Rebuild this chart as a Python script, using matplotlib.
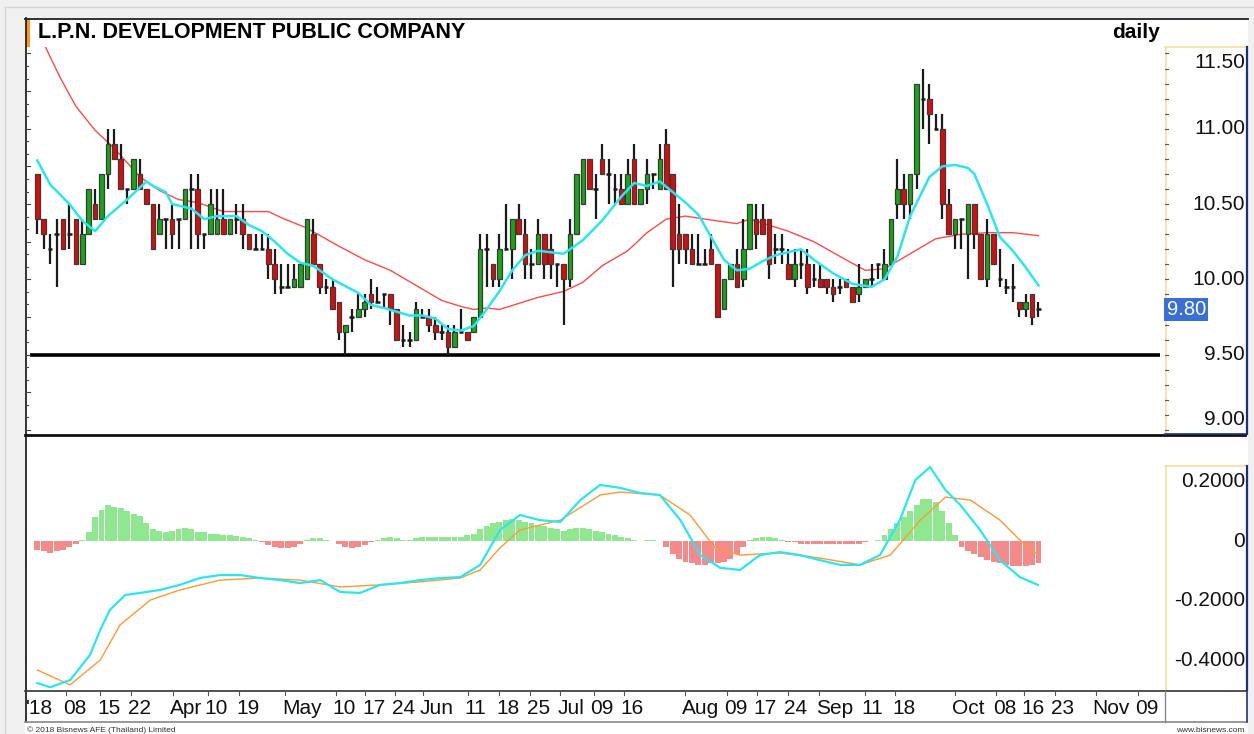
import matplotlib
matplotlib.use("Agg")
import matplotlib.pyplot as plt
from matplotlib.patches import Rectangle
import matplotlib.transforms as mtransforms
import numpy as np

# ---------------- data ----------------
title = "L.P.N. DEVELOPMENT PUBLIC COMPANY"
period = "daily"

opens = [10.7,10.4,10.2,10.3,10.4,10.3,10.4,10.1,10.3,10.5,
         10.4,10.7,10.9,10.8,10.6,10.6,10.7,10.6,10.5,10.3,
         10.4,10.4,10.4,10.4,10.6,10.6,10.3,10.3,10.3,10.4,
         10.3,10.4,10.4,10.3,10.2,10.2,10.2,10.1,9.95,9.95,
         9.95,9.95,10.0,10.3,10.1,9.95,9.95,9.85,9.65,9.75,
         9.75,9.8,9.9,9.85,9.9,9.9,9.8,9.6,9.6,9.6,
         9.75,9.75,9.7,9.65,9.65,9.55,9.65,9.65,9.65,9.75,
         10.2,10.1,10.0,10.2,10.2,10.4,10.3,10.1,10.1,10.3,
         10.2,10.1,10.1,10.0,10.3,10.5,10.8,10.6,10.8,10.7,
         10.6,10.6,10.5,10.8,10.5,10.6,10.7,10.6,10.9,10.7,
         10.3,10.3,10.2,10.1,10.1,10.2,10.1,9.8,10.0,10.1,
         10.0,10.2,10.4,10.4,10.4,10.2,10.2,10.1,10.0,10.1,
         10.1,10.0,10.0,10.0,9.95,9.95,10.0,9.95,9.9,9.95,
         10.0,10.1,10.0,10.1,10.5,10.6,10.5,10.7,11.2,11.2,
         11.0,11.0,10.5,10.3,10.4,10.3,10.5,10.3,10.0,10.3,
         10.0,9.95,9.95,9.85,9.8,9.9,9.8]
highs = [10.7,10.4,10.3,10.4,10.4,10.5,10.4,10.4,10.6,10.6,
         10.7,11.0,11.0,10.9,10.6,10.8,10.8,10.6,10.5,10.5,
         10.4,10.5,10.4,10.6,10.7,10.7,10.3,10.6,10.6,10.6,
         10.4,10.5,10.5,10.3,10.3,10.3,10.3,10.2,10.1,10.1,
         10.1,10.1,10.4,10.4,10.1,10.0,10.0,9.85,9.7,9.8,
         9.9,9.9,10.0,9.95,9.9,9.9,9.8,9.7,9.65,9.85,
         9.8,9.8,9.75,9.7,9.7,9.7,9.8,9.65,9.75,10.3,
         10.3,10.1,10.3,10.5,10.4,10.5,10.4,10.2,10.4,10.3,
         10.3,10.1,10.1,10.4,10.7,10.8,10.8,10.7,10.9,10.8,
         10.7,10.7,10.8,10.9,10.6,10.8,10.7,10.9,11.0,10.7,
         10.5,10.3,10.3,10.3,10.2,10.3,10.1,10.0,10.1,10.2,
         10.4,10.5,10.5,10.5,10.4,10.3,10.3,10.2,10.2,10.2,
         10.2,10.1,10.1,10.0,10.0,10.0,10.0,9.95,10.1,10.0,
         10.1,10.1,10.2,10.4,10.8,10.7,10.7,11.3,11.4,11.3,
         11.1,11.1,10.6,10.4,10.4,10.5,10.5,10.3,10.4,10.3,
         10.2,10.0,10.1,9.85,9.9,9.9,9.85]
lows = [10.3,10.2,10.1,9.95,10.2,10.2,10.1,10.1,10.3,10.4,
        10.4,10.6,10.8,10.6,10.5,10.6,10.6,10.5,10.2,10.3,
        10.2,10.2,10.2,10.4,10.2,10.2,10.2,10.3,10.3,10.3,
        10.3,10.3,10.2,10.2,10.2,10.2,10.0,9.9,9.9,9.95,
        9.95,9.95,10.0,10.1,9.9,9.9,9.8,9.6,9.5,9.65,
        9.75,9.75,9.8,9.85,9.8,9.7,9.6,9.55,9.55,9.6,
        9.75,9.65,9.6,9.6,9.5,9.55,9.65,9.6,9.65,9.75,
        9.95,9.95,9.95,10.2,10.0,10.3,10.0,10.0,10.1,10.0,
        10.0,9.95,9.7,9.95,10.3,10.5,10.6,10.4,10.7,10.5,
        10.5,10.5,10.5,10.5,10.5,10.5,10.6,10.6,10.6,9.95,
        10.1,10.1,10.1,10.1,10.1,10.1,9.75,9.8,10.0,9.95,
        9.95,10.2,10.2,10.3,10.0,10.1,10.1,10.0,9.95,10.0,
        9.9,9.95,9.95,9.9,9.85,9.9,9.95,9.85,9.85,9.95,
        9.95,10.0,10.0,10.1,10.4,10.4,10.4,10.6,11.0,10.9,
        11.0,10.4,10.3,10.2,10.2,10.0,10.2,10.0,9.95,10.1,
        9.95,9.9,9.85,9.75,9.75,9.7,9.75]
closes = [10.4,10.3,10.2,10.3,10.2,10.3,10.1,10.3,10.6,10.4,
          10.7,10.9,10.8,10.6,10.6,10.8,10.6,10.5,10.2,10.4,
          10.4,10.3,10.4,10.6,10.6,10.3,10.3,10.5,10.4,10.3,
          10.4,10.4,10.3,10.2,10.2,10.2,10.1,10.0,9.95,9.95,
          10.0,10.1,10.4,10.1,9.95,9.95,9.8,9.65,9.7,9.75,
          9.8,9.85,9.85,9.85,9.9,9.8,9.6,9.6,9.6,9.8,
          9.75,9.7,9.65,9.65,9.55,9.65,9.65,9.6,9.75,10.2,
          10.2,10.0,10.2,10.2,10.4,10.3,10.1,10.1,10.3,10.1,
          10.1,10.1,10.0,10.3,10.7,10.8,10.6,10.6,10.7,10.7,
          10.6,10.5,10.7,10.5,10.6,10.7,10.7,10.8,10.6,10.2,
          10.2,10.2,10.1,10.1,10.1,10.1,9.75,10.0,10.1,9.95,
          10.2,10.5,10.3,10.3,10.1,10.2,10.2,10.0,10.1,10.1,
          9.95,10.0,9.95,9.95,9.9,9.95,9.95,9.85,9.95,10.0,
          10.0,10.1,10.1,10.4,10.6,10.5,10.7,11.3,11.2,11.1,
          11.0,10.5,10.3,10.4,10.4,10.5,10.3,10.0,10.3,10.1,
          10.0,9.95,9.95,9.8,9.85,9.75,9.8]

support_level = 9.50

# long moving average (red) read points: (day index, price)
ma_long_idx = [1.3, 3.5, 6, 9, 12, 16, 19, 22, 25, 29, 36, 38, 42, 47, 51, 55, 59, 63,
               66, 68, 70, 72, 75, 78, 82, 85, 88, 92, 95, 98, 101, 104, 109, 111, 114,
               117, 121, 126, 129, 132, 136, 140, 144, 148, 152, 156]
ma_long_val = [11.54, 11.345, 11.15, 10.99, 10.87, 10.68, 10.59, 10.53, 10.51, 10.45, 10.45,
               10.41, 10.34, 10.22, 10.13, 10.06, 9.96, 9.86, 9.82, 9.80, 9.81, 9.80, 9.84,
               9.88, 9.92, 9.98, 10.09, 10.19, 10.31, 10.40, 10.42, 10.40, 10.37, 10.40,
               10.36, 10.32, 10.25, 10.13, 10.06, 10.07, 10.17, 10.27, 10.30, 10.31, 10.31,
               10.29]
# short moving average (cyan)
ma_short_idx = [0, 2, 5, 7, 9, 11, 14, 17, 18, 20, 21, 24, 26, 28, 31, 33, 35, 37, 39, 41,
                43, 46, 50, 52, 54, 58, 60, 62, 64, 66, 68, 70, 72, 74, 76, 78, 80, 82, 85,
                88, 91, 93, 95, 97, 99, 101, 103, 105, 107, 109, 111, 113, 115, 117, 119,
                121, 124, 127, 130, 132, 134, 136, 139, 141, 143, 145, 146, 148, 150, 152,
                154, 156]
ma_short_val = [10.79, 10.63, 10.50, 10.39, 10.32, 10.42, 10.53, 10.65, 10.62, 10.58, 10.50,
                10.47, 10.40, 10.42, 10.42, 10.36, 10.32, 10.25, 10.17, 10.11, 10.09, 10.00,
                9.91, 9.83, 9.81, 9.76, 9.76, 9.74, 9.67, 9.66, 9.69, 9.80, 9.92, 10.06,
                10.16, 10.19, 10.18, 10.17, 10.26, 10.39, 10.55, 10.64, 10.62, 10.65, 10.58,
                10.51, 10.43, 10.28, 10.13, 10.06, 10.07, 10.12, 10.16, 10.18, 10.20, 10.13,
                10.04, 9.97, 9.95, 10.00, 10.15, 10.42, 10.68, 10.75, 10.76, 10.74, 10.70,
                10.50, 10.28, 10.19, 10.08, 9.96]

# MACD histogram, one bar per day
macd_hist = ([-0.03, -0.035, -0.04, -0.035, -0.03, -0.02, -0.01, 0.005] +
             [0.03, 0.08, 0.105, 0.12, 0.115, 0.11, 0.10, 0.09, 0.085, 0.06, 0.04, 0.035,
              0.03, 0.035, 0.04, 0.045, 0.04, 0.03, 0.03, 0.025, 0.025, 0.02, 0.02, 0.018,
              0.015, 0.01, 0.005] +
             [-0.005, -0.015, -0.02, -0.025, -0.025, -0.02, -0.01] +
             [0.005, 0.01, 0.01, 0.005, 0.0] +
             [-0.01, -0.02, -0.025, -0.02, -0.015, -0.005] +
             [0.005, 0.01, 0.015, 0.01, 0.005, 0.005, 0.01, 0.015, 0.015, 0.015, 0.015,
              0.015, 0.015, 0.015, 0.02, 0.025] +
             [0.04, 0.05, 0.06, 0.065, 0.07, 0.075, 0.07, 0.065, 0.06, 0.055, 0.05, 0.045,
              0.04, 0.035] +
             [0.04, 0.045, 0.045, 0.04, 0.035, 0.03, 0.025, 0.02, 0.015, 0.01] +
             [0.005, 0.0, 0.005, 0.003, 0.0] +
             [-0.02, -0.045, -0.06, -0.07, -0.075, -0.08, -0.08, -0.075, -0.075, -0.07,
              -0.06, -0.045, -0.02] +
             [0.005, 0.01, 0.015, 0.015, 0.01, 0.005] +
             [-0.005, -0.005, -0.01, -0.01, -0.01, -0.01, -0.01, -0.01, -0.01, -0.01, -0.01,
              -0.01, -0.005, 0.0, 0.005] +
             [0.02, 0.04, 0.06, 0.08, 0.10, 0.12, 0.14, 0.14, 0.13, 0.10, 0.06, 0.02] +
             [-0.02, -0.035, -0.045, -0.055, -0.065, -0.07, -0.075, -0.08, -0.085, -0.085,
              -0.085, -0.08, -0.075])

macd_idx = [0, 2, 5.1, 8.2, 9.8, 11.3, 13.7, 16, 19.1, 22.2, 25.3, 28.5, 31.6, 34.7, 37.8,
            40.9, 44.1, 47.2, 50.3, 53.4, 56.5, 59.6, 62.8, 65.9, 69, 72.1, 75.2, 78.3, 81.5,
            84.6, 87.7, 90.8, 93.9, 97, 100.2, 103.3, 106.4, 109.5, 112.6, 115.7, 118.8,
            121.9, 125.1, 128.2, 131.3, 134.4, 136.8, 139.1, 141.5, 143.8, 146.9, 150,
            153.1, 155.9]
macd_val = [-0.476, -0.49, -0.466, -0.382, -0.298, -0.231, -0.181, -0.174, -0.164, -0.147,
            -0.124, -0.114, -0.114, -0.124, -0.131, -0.141, -0.131, -0.171, -0.174, -0.147,
            -0.141, -0.131, -0.124, -0.121, -0.080, 0.037, 0.087, 0.070, 0.064, 0.137, 0.188,
            0.178, 0.161, 0.154, 0.070, -0.047, -0.090, -0.097, -0.047, -0.037, -0.047,
            -0.064, -0.080, -0.080, -0.047, 0.070, 0.204, 0.248, 0.171, 0.121, 0.037, -0.064,
            -0.121, -0.147]
signal_idx = [0, 5.1, 9.8, 12.9, 17.6, 22.2, 28.5, 34.7, 40.9, 47.2, 53.4, 59.6, 65.9, 69,
              72.1, 75.2, 81.5, 87.7, 90.8, 97, 101.7, 105.6, 109.5, 115.7, 121.9, 128.2,
              132.9, 137.6, 141.5, 145.4, 150, 153.1, 155.9]
signal_val = [-0.432, -0.482, -0.399, -0.281, -0.198, -0.164, -0.131, -0.124, -0.131, -0.154,
              -0.147, -0.137, -0.124, -0.097, -0.023, 0.037, 0.070, 0.154, 0.164, 0.154,
              0.087, -0.023, -0.047, -0.040, -0.057, -0.080, -0.047, 0.070, 0.147, 0.137,
              0.070, 0.003, -0.047]

price_ticks = [11.5, 11.0, 10.5, 10.0, 9.5, 9.0]
price_tick_labels = ["11.50", "11.00", "10.50", "10.00", "9.50", "9.00"]
macd_ticks = [0.2, 0.0, -0.2, -0.4]
macd_tick_labels = ["0.2000", "0", "-0.2000", "-0.4000"]

date_labels = ["'18", "08", "15", "22", "Apr", "10", "19", "May", "10", "17", "24", "Jun",
               "11", "18", "25", "Jul", "09", "16", "Aug", "09", "17", "24", "Sep", "11",
               "18", "Oct", "08", "16", "23", "Nov", "09"]
# label left-edge positions, in trading-day index units (layout)
date_label_pos = [-1.75, 4.0, 9.3, 14.1, 20.7, 26.1, 31.0, 38.1, 46.0, 50.6, 55.3, 59.6,
                  66.6, 71.5, 76.3, 81.0, 86.2, 90.9, 100.4, 107.0, 111.6, 116.4, 121.3,
                  128.4, 133.2, 142.5, 148.9, 153.3, 158.0, 164.4, 171.0]

n = len(closes)
assert len(opens) == n and len(highs) == n and len(lows) == n and len(macd_hist) == n

# ---------------- figure ----------------
W, H = 1254, 734
fig = plt.figure(figsize=(W / 100, H / 100), dpi=100)
fig.patch.set_facecolor('#f0f0f0')
plt.rcParams['font.family'] = ['Liberation Sans', 'DejaVu Sans']


def rect(x0, y0, x1, y1):
    return [x0 / W, 1 - y1 / H, (x1 - x0) / W, (y1 - y0) / H]


# background / frame in pixel coordinates
bg = fig.add_axes([0, 0, 1, 1])
bg.set_xlim(0, W)
bg.set_ylim(H, 0)
bg.axis('off')
bg.plot([5, W], [7, 7], color='#d4d4d4', lw=1)
bg.plot([5, 5], [7, H], color='#d4d4d4', lw=1)
bg.add_patch(Rectangle((25, 18), 1223, H - 18, facecolor='white', edgecolor='none'))
bg.plot([25, 1248], [18.5, 18.5], color='#222222', lw=1.3)
bg.plot([25.5, 25.5], [18, 722], color='#222222', lw=1.3)
bg.add_patch(Rectangle((26, 19), 3.5, 28, facecolor='#ff9a10', edgecolor='none'))
bg.plot([25, 1245], [435, 435], color='#111111', lw=2.0)
# right axis boxes
for (y0, y1) in [(47, 434), (466, 690)]:
    bg.plot([1165.5, 1165.5], [y0, y1], color='#f5dfa0', lw=1.2)
    bg.plot([1165, 1246], [y0, y0], color='#f5dfa0', lw=1.2)
    bg.plot([1246.5, 1246.5], [y0, y1], color='#1c2f7a', lw=1.6)
bg.plot([1165, 1246], [434, 434], color='#1c2f7a', lw=1.2)
# x axis bar
bg.plot([25, 1246], [691, 691], color='#333333', lw=1.2)
bg.plot([25, 1246], [722, 722], color='#888888', lw=1.2)
bg.plot([1164.5, 1164.5], [691, 722], color='#888888', lw=1.0)
bg.plot([1246.5, 1246.5], [691, 722], color='#1c2f7a', lw=1.2)

fig.text(38 / W, 1 - 33 / H, title, fontsize=15.5, fontweight='bold', ha='left',
         va='center', color='#000000')
fig.text(1160 / W, 1 - 33 / H, period, fontsize=15, fontweight='bold', ha='right',
         va='center', color='#000000')
fig.text(27 / W, 1 - 730 / H, "\u00a9 2018 Bisnews AFE (Thailand) Limited", fontsize=6,
         ha='left', va='center', color='#333333')
fig.text(1245 / W, 1 - 730 / H, "www.bisnews.com", fontsize=6, ha='right', va='center',
         color='#333333')

XMIN, XMAX = -1.92, 175.4

# ---------------- price panel ----------------
ax = fig.add_axes(rect(25, 47, 1163, 434))
ax.set_xlim(XMIN, XMAX)
ax.set_ylim(8.973, 11.543)
ax.axis('off')
ax.patch.set_alpha(0)

ax.hlines(support_level, -1.1, 175.0, color='black', lw=2.6, zorder=2)
ax.plot(ma_long_idx, ma_long_val, color='#ff4a4a', lw=1.0, zorder=3)

bw = 0.72
for i in range(n):
    o, h, l, c = opens[i], highs[i], lows[i], closes[i]
    ax.vlines(i, l, h, color='#1a1a1a', lw=1.6, zorder=4)
    if c == o:
        ax.hlines(o, i - bw / 2, i + bw / 2, color='#1a1a1a', lw=1.8, zorder=5)
    else:
        col = '#14a814' if c > o else '#dd0a0a'
        ax.add_patch(Rectangle((i - bw / 2, min(o, c)), bw, abs(c - o), facecolor=col,
                               edgecolor='#3a3a3a', lw=0.9, zorder=5))
ax.plot(ma_short_idx, ma_short_val, color='#28e6f2', lw=1.8, zorder=6)

# left minor ticks
tr_left = mtransforms.blended_transform_factory(ax.transAxes, ax.transData)
for k, v in enumerate(np.arange(9.0, 11.5 + 1e-6, 0.25 / 3)):
    ln = 0.004 if k % 3 == 0 else 0.0025
    ax.plot([0, ln], [v, v], transform=tr_left, color='#444444', lw=0.8, clip_on=False)

# right price axis
axr = fig.add_axes(rect(1165, 47, 1245, 434))
axr.set_xlim(0, 1)
axr.set_ylim(8.973, 11.543)
axr.axis('off')
for v in np.arange(9.0, 11.5 + 1e-6, 0.1):
    axr.plot([0, 0.04], [v, v], color='#555555', lw=0.8)
for v, lab in zip(price_ticks, price_tick_labels):
    off = 0
    if v == max(price_ticks):
        off = -9
    elif v == min(price_ticks):
        off = 10
    t = mtransforms.offset_copy(axr.transData, fig=fig, x=0, y=off, units='dots')
    axr.text(1.0, v, lab, transform=t, ha='right', va='center', fontsize=15, color='#111111')
axr.text(0.02, closes[-1], f"{closes[-1]:.2f}", ha='left', va='center', fontsize=14.5,
         color='white', bbox=dict(boxstyle='square,pad=0.12', facecolor='#3a6fd8',
                                  edgecolor='none'))

# ---------------- MACD panel ----------------
axm = fig.add_axes(rect(25, 436, 1163, 690))
axm.set_xlim(XMIN, XMAX)
axm.set_ylim(-0.4992, 0.3518)
axm.axis('off')
axm.patch.set_alpha(0)
hcols = ['#8fe88f' if v >= 0 else '#f58a8a' for v in macd_hist]
axm.bar(np.arange(n), macd_hist, width=0.92, color=hcols, edgecolor='none', zorder=2)
axm.plot(signal_idx, signal_val, color='#ff9a30', lw=1.0, zorder=3)
axm.plot(macd_idx, macd_val, color='#28e6f2', lw=1.6, zorder=4)

axmr = fig.add_axes(rect(1165, 466, 1245, 690))
axmr.set_xlim(0, 1)
axmr.set_ylim(-0.4992, 0.2513)
axmr.axis('off')
for v, lab in zip(macd_ticks, macd_tick_labels):
    axmr.text(1.0, v, lab, ha='right', va='center', fontsize=15, color='#111111')

# ---------------- date axis ----------------
axx = fig.add_axes(rect(25, 691, 1163, 722))
axx.set_xlim(XMIN, XMAX)
axx.set_ylim(0, 1)
axx.axis('off')
for p, lab in zip(date_label_pos, date_labels):
    axx.text(p, 0.42, lab, ha='left', va='center', fontsize=15, color='#111111')
    if p > 0:
        axx.plot([p + 0.5, p + 0.5], [0.86, 1.0], color='#555555', lw=0.8)

fig.savefig("out.png", dpi=100, facecolor=fig.get_facecolor())
